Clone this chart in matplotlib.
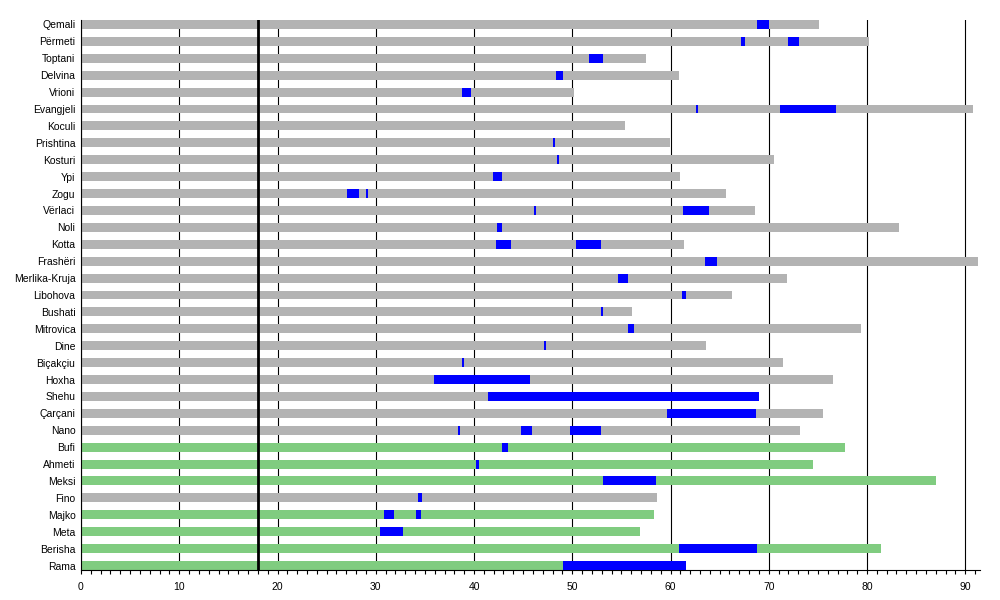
import matplotlib
matplotlib.use("Agg")
import matplotlib.pyplot as plt
import numpy as np

plt.rcParams['font.family'] = ['Liberation Sans', 'DejaVu Sans']

# prime ministers, top to bottom
names = ["Qemali", "Përmeti", "Toptani", "Delvina", "Vrioni", "Evangjeli", "Koculi",
         "Prishtina", "Kosturi", "Ypi", "Zogu", "Vërlaci", "Noli", "Kotta", "Frashëri",
         "Merlika-Kruja", "Libohova", "Bushati", "Mitrovica", "Dine", "Biçakçiu", "Hoxha",
         "Shehu", "Çarçani", "Nano", "Bufi", "Ahmeti", "Meksi", "Fino", "Majko", "Meta",
         "Berisha", "Rama"]

# age at death (or current age)
lifespan = [75.1, 80.2, 57.5, 60.9, 50.2, 90.8, 55.4, 59.9, 70.5, 61.0, 65.6, 68.6,
            83.3, 61.4, 91.3, 71.9, 66.3, 56.1, 79.4, 63.6, 71.4, 76.5, 69.0, 75.5,
            73.2, 77.8, 74.5, 87.0, 58.6, 58.3, 56.9, 81.4, 61.6]

# still alive -> green
alive = [False] * 25 + [True, True, True, False, True, True, True, True]

# ages while in office
terms = [
    [(68.8, 70.0)],
    [(67.2, 67.6), (72.0, 73.1)],
    [(51.7, 53.1)],
    [(48.3, 49.1)],
    [(38.8, 39.7)],
    [(62.6, 62.8), (71.1, 76.8)],
    [],
    [(48.0, 48.2)],
    [(48.4, 48.6)],
    [(41.9, 42.8)],
    [(27.1, 28.3), (29.0, 29.2)],
    [(46.1, 46.3), (61.3, 63.9)],
    [(42.3, 42.9)],
    [(42.2, 43.8), (50.4, 52.9)],
    [(63.5, 64.7)],
    [(54.7, 55.7)],
    [(61.2, 61.6)],
    [(52.9, 53.1)],
    [(55.7, 56.3)],
    [(47.1, 47.3)],
    [(38.8, 39.0)],
    [(35.9, 45.7)],
    [(41.4, 69.0)],
    [(59.6, 68.7)],
    [(38.4, 38.6), (44.8, 45.9), (49.8, 52.9)],
    [(42.9, 43.5)],
    [(40.2, 40.5)],
    [(53.1, 58.5)],
    [(34.3, 34.7)],
    [(30.8, 31.9), (34.1, 34.6)],
    [(30.4, 32.8)],
    [(60.9, 68.8)],
    [(49.1, 61.6)],
]

adult_age = 18

fig = plt.figure(figsize=(10, 6), dpi=100)
ax = fig.add_axes([0.081, 0.05, 0.899, 0.9167])

y = np.arange(len(names))
h = 0.53
base_cols = ['#80cc80' if a else '#b3b3b3' for a in alive]
ax.barh(y, lifespan, height=h, color=base_cols, zorder=2)
for i, tl in enumerate(terms):
    for s, e in tl:
        ax.barh(i, e - s, left=s, height=h, color='#0000ff', zorder=3)

ax.axvline(adult_age, color='black', lw=2, zorder=4)

ax.set_ylim(len(names) - 1 + h / 2, -h / 2)
ax.set_xlim(0, 91.5)
ax.set_yticks(y)
ax.set_yticklabels(names, fontsize=7.5)
ax.tick_params(axis='y', length=0, pad=4)
ax.set_xticks(np.arange(0, 91, 10))
ax.set_xticks(np.arange(0, 92, 1), minor=True)
ax.tick_params(axis='x', which='both', direction='out', length=3, width=0.8, labelsize=7.5, pad=5.5)
ax.grid(axis='x', which='major', color='black', lw=0.8, zorder=1)
ax.set_axisbelow(True)
for s in ['top', 'right']:
    ax.spines[s].set_visible(False)

fig.savefig("out.png", dpi=100)
